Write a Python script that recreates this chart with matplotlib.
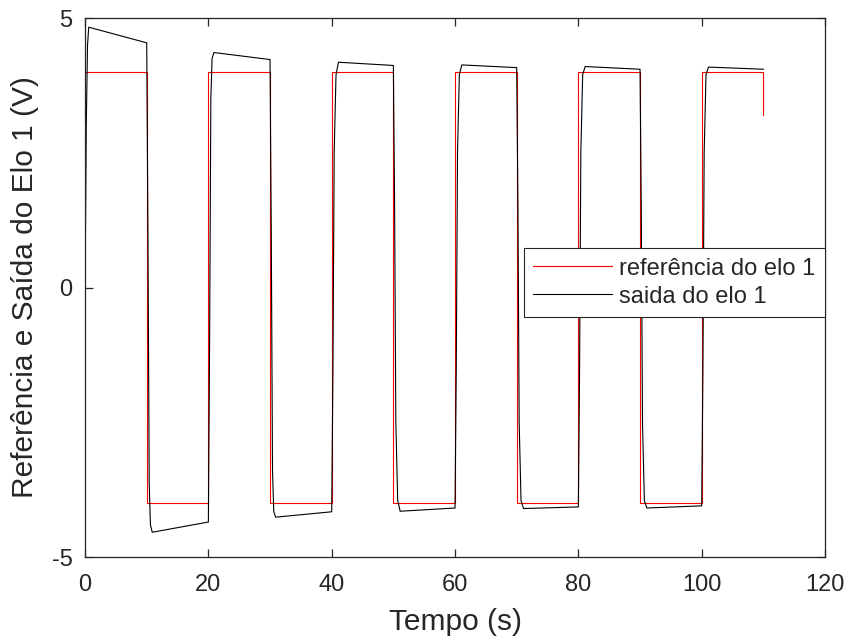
import numpy as np
import matplotlib
matplotlib.use('Agg')
import matplotlib.pyplot as plt

plt.rcParams['font.family'] = ['Liberation Sans', 'DejaVu Sans']
plt.rcParams['axes.unicode_minus'] = False

# reference square wave (switch points)
ref_t = [0, 0, 10, 10, 20, 20, 30, 30, 40, 40, 50, 50, 60, 60,
         70, 70, 80, 80, 90, 90, 100, 100, 110, 110]
ref_y = [0, 4, 4, -4, -4, 4, 4, -4, -4, 4, 4, -4, -4, 4,
         4, -4, -4, 4, 4, -4, -4, 4, 4, 3.2]

# output of link 1
out_t = [0, 0.2, 0.4, 0.6,
         10.0, 10.2, 10.4, 10.6, 10.9,
         20.0, 20.2, 20.4, 20.6, 20.9,
         30.0, 30.2, 30.4, 30.6, 30.9,
         40.0, 40.2, 40.4, 40.7, 41.1,
         50.0, 50.2, 50.4, 50.7, 51.1,
         60.0, 60.2, 60.4, 60.7, 61.1,
         70.0, 70.2, 70.4, 70.7, 71.1,
         80.0, 80.2, 80.4, 80.7, 81.1,
         90.0, 90.2, 90.4, 90.7, 91.1,
         100.0, 100.2, 100.4, 100.7, 101.1,
         110.0]
out_y = [0, 3.0, 4.5, 4.83,
         4.54, 1.0, -3.6, -4.4, -4.54,
         -4.35, -1.0, 3.5, 4.25, 4.36,
         4.23, 1.0, -3.4, -4.15, -4.26,
         -4.16, -1.5, 2.5, 3.95, 4.18,
         4.12, 1.5, -2.5, -3.95, -4.15,
         -4.09, -1.5, 2.5, 3.95, 4.13,
         4.08, 1.5, -2.5, -3.95, -4.10,
         -4.07, -1.5, 2.5, 3.95, 4.10,
         4.05, 1.5, -2.5, -3.95, -4.09,
         -4.05, -1.5, 2.5, 3.95, 4.09,
         4.05]

fig = plt.figure(figsize=(8.53, 6.44), dpi=100)
ax = fig.add_axes([0.0997, 0.135, 0.8675, 0.837])

ax.plot(ref_t, ref_y, color='#ff0000', lw=0.8, label='referência do elo 1')
ax.plot(out_t, out_y, color='black', lw=0.8, label='saida do elo 1')

ax.set_xlim(0, 120)
ax.set_ylim(-5, 5)
ax.set_xticks(np.arange(0, 121, 20))
ax.set_yticks([-5, 0, 5])
ax.tick_params(direction='in', top=True, right=True, length=6, width=0.9,
               colors='#262626', labelsize=17, pad=9)
ax.tick_params(axis='x', pad=12)
for s in ax.spines.values():
    s.set_linewidth(0.9)
    s.set_color('#262626')

ax.set_xlabel('Tempo (s)', fontsize=21.5, color='#262626', labelpad=9)
ax.set_ylabel('Referência e Saída do Elo 1 (V)', fontsize=21.5, color='#262626', labelpad=9)

leg = ax.legend(loc='center right', bbox_to_anchor=(1.0, 0.509), fontsize=17,
                frameon=True, fancybox=False, framealpha=1, borderpad=0.4,
                handlelength=3.35, handletextpad=0.3, labelspacing=0.25,
                borderaxespad=0)
leg.get_frame().set_edgecolor('#262626')
leg.get_frame().set_linewidth(0.8)
for t in leg.get_texts():
    t.set_color('#262626')

fig.savefig('out.png', dpi=100)
